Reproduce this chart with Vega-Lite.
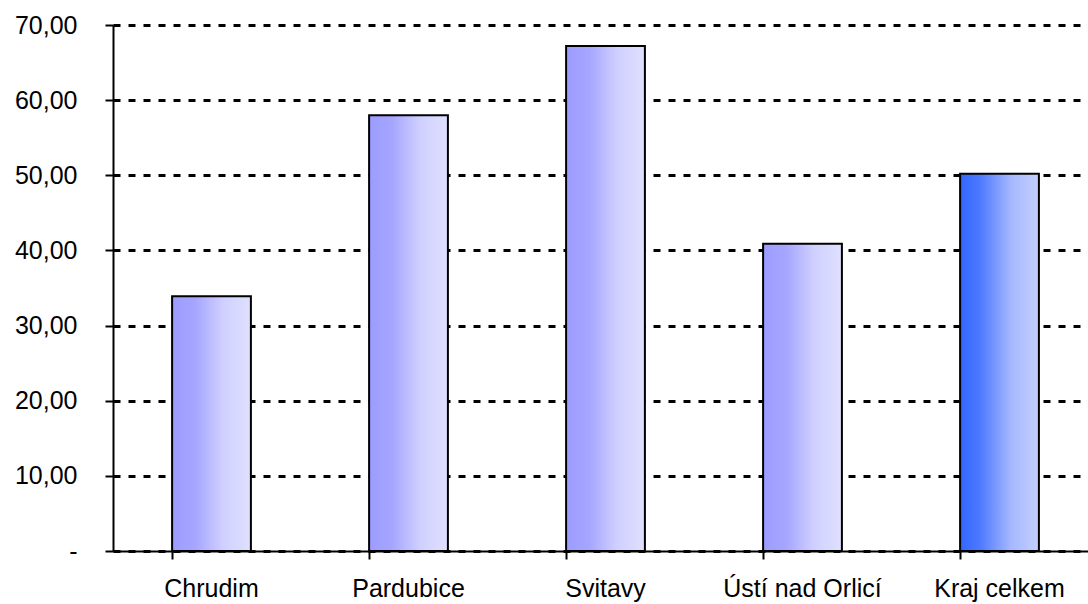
{
  "$schema": "https://vega.github.io/schema/vega-lite/v6.json",
  "width": 975,
  "height": 526,
  "padding": {"left": 113, "top": 25, "right": 0, "bottom": 53},
  "autosize": {"type": "none"},
  "background": "white",
  "config": {
    "view": {"stroke": null},
    "font": "Liberation Sans"
  },
  "data": {
    "values": [
      {"region": "Chrudim", "value": 33.9},
      {"region": "Pardubice", "value": 58.0},
      {"region": "Svitavy", "value": 67.2},
      {"region": "Ústí nad Orlicí", "value": 40.9},
      {"region": "Kraj celkem", "value": 50.2}
    ]
  },
  "mark": {"type": "bar", "stroke": "black", "strokeWidth": 2},
  "encoding": {
    "x": {
      "field": "region",
      "type": "nominal",
      "sort": null,
      "scale": {"range": [0, 985], "paddingInner": 0.6, "paddingOuter": 0.3},
      "axis": {
        "title": null,
        "labelAngle": 0,
        "bandPosition": 0,
        "labelFontSize": 25,
        "labelColor": "black",
        "labelPadding": 17,
        "tickColor": "black",
        "tickSize": 8,
        "tickWidth": 2,
        "domainColor": "black",
        "domainWidth": 2,
        "grid": false,
        "labelFont": "Liberation Sans"
      }
    },
    "y": {
      "field": "value",
      "type": "quantitative",
      "scale": {"domain": [0, 70], "nice": false},
      "axis": {
        "title": null,
        "values": [0, 10, 20, 30, 40, 50, 60, 70],
        "labelExpr": "datum.value == 0 ? '-' : replace(format(datum.value, '.2f'), '.', ',')",
        "labelFontSize": 25,
        "labelColor": "black",
        "labelPadding": 28,
        "labelFont": "Liberation Sans",
        "tickColor": "black",
        "tickSize": 8,
        "tickWidth": 2,
        "domainColor": "black",
        "domainWidth": 2,
        "grid": true,
        "gridColor": "black",
        "gridWidth": 3,
        "gridDash": [7, 8]
      }
    },
    "color": {
      "condition": {
        "test": "datum.region === 'Kraj celkem'",
        "value": {
          "gradient": "linear", "x1": 0, "x2": 1, "y1": 0, "y2": 0,
          "stops": [
            {"offset": 0, "color": "#3366ff"},
            {"offset": 0.25, "color": "#4d79ff"},
            {"offset": 0.65, "color": "#a6b8ff"},
            {"offset": 1, "color": "#c4d0ff"}
          ]
        }
      },
      "value": {
        "gradient": "linear", "x1": 0, "x2": 1, "y1": 0, "y2": 0,
        "stops": [
          {"offset": 0, "color": "#9c9cff"},
          {"offset": 0.3, "color": "#a6a6ff"},
          {"offset": 0.65, "color": "#d0d0ff"},
          {"offset": 1, "color": "#e0e0ff"}
        ]
      }
    }
  }
}
